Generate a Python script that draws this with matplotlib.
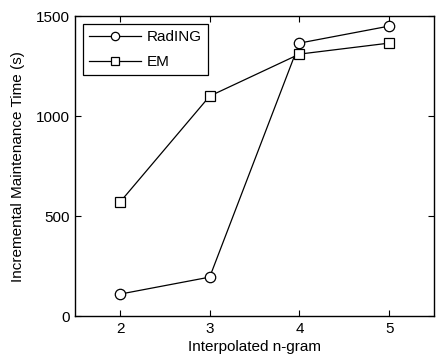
import matplotlib.pyplot as plt

plt.rcParams['font.family'] = ['Liberation Sans', 'DejaVu Sans']

ngram = [2, 3, 4, 5]
rading = [110, 195, 1365, 1450]
em = [570, 1100, 1310, 1365]

fig = plt.figure(figsize=(4.37, 3.58), dpi=100)
ax = fig.add_axes([0.172, 0.117, 0.821, 0.838])

ax.plot(ngram, rading, color='black', lw=0.9, marker='o', ms=7.5,
        mfc='white', mec='black', mew=0.9, label='RadING')
ax.plot(ngram, em, color='black', lw=0.9, marker='s', ms=7.5,
        mfc='white', mec='black', mew=0.9, label='EM')

ax.set_xlim(1.5, 5.5)
ax.set_ylim(0, 1500)
ax.set_xticks(ngram)
ax.set_yticks([0, 500, 1000, 1500])
ax.tick_params(direction='in', length=4, width=0.8, labelsize=11,
               top=True, right=True, pad=4)
for s in ax.spines.values():
    s.set_linewidth(1.0)

ax.set_xlabel('Interpolated n-gram', fontsize=11, labelpad=3)
ax.set_ylabel('Incremental Maintenance Time (s)', fontsize=11, labelpad=7.5)

leg = ax.legend(loc='upper left', fontsize=11, fancybox=False,
                edgecolor='black', framealpha=1, handlelength=3.4,
                handletextpad=0.4, borderaxespad=0.5, labelspacing=0.75,
                markerscale=0.8)
leg.get_frame().set_linewidth(0.9)

fig.savefig('out.png', dpi=100)
